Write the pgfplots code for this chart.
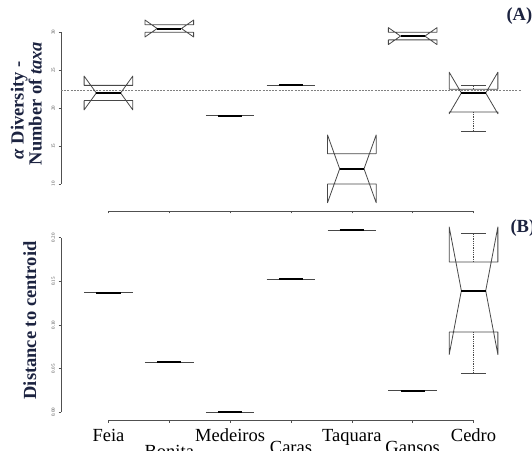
\documentclass[border=0pt]{standalone}
\usepackage{fontspec}
\setmainfont{Liberation Serif}
\usepackage{pgfplots}
\pgfplotsset{compat=1.18}
\definecolor{boxc}{HTML}{484848}
\definecolor{axc}{HTML}{505050}
\definecolor{navy}{HTML}{1C2340}
\tikzset{xl/.style={anchor=base, font=\fontsize{18.5}{22}\selectfont}}
\begin{document}
\begin{tikzpicture}
\pgfplotsset{
  rstyle/.style={
    scale only axis, width=460pt, clip=false,
    xmin=0.22, xmax=7.78,
    axis x line*=bottom, axis y line*=left,
    axis line style={draw=none},
    tick align=outside, major tick length=2.5pt,
    tick style={axc, line width=0.6pt},
    xtick={1,2,3,4,5,6,7}, xticklabels={},
    scaled y ticks=false,
    yticklabel style={rotate=90, anchor=south, font=\fontsize{5}{6}\selectfont, text=axc},
    /pgf/number format/assume math mode=true,
  },
  boxln/.style={boxc, line width=0.8pt, line join=round},
  med/.style={black, line width=2pt},
  whisk/.style={boxc, line width=0.7pt, dash pattern=on 1pt off 0.8pt},
  capl/.style={boxc, line width=0.8pt},
}
% ---------------- Panel A ----------------
\begin{axis}[rstyle, at={(61pt,239pt)}, anchor=south west, height=199.4pt,
  ymin=6.44, ymax=32.73, ytick={10,15,20,25,30}]
\draw[axc, line width=0.6pt] (axis cs:0.22,10) -- (axis cs:0.22,30);
\draw[axc, line width=0.6pt] (axis cs:1,6.44) -- (axis cs:7,6.44);
% reference line
\addplot[gray, line width=0.7pt, dash pattern=on 2pt off 1.2pt] coordinates {(0.22,22.3) (7.78,22.3)};
% Feia
\addplot[boxln] coordinates {(0.6,21)(1.4,21)(1.4,19.77)(1.2,22)(1.4,24.23)(1.4,23)(0.6,23)(0.6,24.23)(0.8,22)(0.6,19.77)(0.6,21)};
\addplot[med] coordinates {(0.8,22)(1.2,22)};
% Bonita
\addplot[boxln] coordinates {(1.6,30)(2.4,30)(2.4,29.38)(2.2,30.5)(2.4,31.62)(2.4,31)(1.6,31)(1.6,31.62)(1.8,30.5)(1.6,29.38)(1.6,30)};
\addplot[med] coordinates {(1.8,30.5)(2.2,30.5)};
% Medeiros
\addplot[boxln] coordinates {(2.6,19)(3.4,19)};
\addplot[med] coordinates {(2.8,19)(3.2,19)};
% Caras
\addplot[boxln] coordinates {(3.6,23)(4.4,23)};
\addplot[med] coordinates {(3.8,23)(4.2,23)};
% Taquara
\addplot[boxln] coordinates {(4.6,10)(5.4,10)(5.4,7.53)(5.2,12)(5.4,16.47)(5.4,14)(4.6,14)(4.6,16.47)(4.8,12)(4.6,7.53)(4.6,10)};
\addplot[med] coordinates {(4.8,12)(5.2,12)};
% Gansos
\addplot[boxln] coordinates {(5.6,29)(6.4,29)(6.4,28.38)(6.2,29.5)(6.4,30.62)(6.4,30)(5.6,30)(5.6,30.62)(5.8,29.5)(5.6,28.38)(5.6,29)};
\addplot[med] coordinates {(5.8,29.5)(6.2,29.5)};
% Cedro
\addplot[whisk] coordinates {(7,22.5)(7,23)};
\addplot[capl] coordinates {(6.8,23)(7.2,23)};
\addplot[whisk] coordinates {(7,19.5)(7,17)};
\addplot[capl] coordinates {(6.8,17)(7.2,17)};
\addplot[boxln] coordinates {(6.6,19.5)(7.4,19.5)(7.4,19.26)(7.2,22)(7.4,24.74)(7.4,22.5)(6.6,22.5)(6.6,24.74)(6.8,22)(6.6,19.26)(6.6,19.5)};
\addplot[med] coordinates {(6.8,22)(7.2,22)};
\end{axis}
% ---------------- Panel B ----------------
\begin{axis}[rstyle, at={(61pt,30pt)}, anchor=south west, height=200.5pt,
  ymin=-0.0088, ymax=0.2209, ytick={0,0.05,0.1,0.15,0.2},
  yticklabel style={/pgf/number format/.cd, fixed, fixed zerofill, precision=2}]
\draw[axc, line width=0.6pt] (axis cs:0.22,0) -- (axis cs:0.22,0.2);
\draw[axc, line width=0.6pt] (axis cs:1,-0.0088) -- (axis cs:7,-0.0088);
% single-value sites
\addplot[boxln] coordinates {(0.6,0.137)(1.4,0.137)};
\addplot[med] coordinates {(0.8,0.137)(1.2,0.137)};
\addplot[boxln] coordinates {(1.6,0.0573)(2.4,0.0573)};
\addplot[med] coordinates {(1.8,0.0573)(2.2,0.0573)};
\addplot[boxln] coordinates {(2.6,0)(3.4,0)};
\addplot[med] coordinates {(2.8,0)(3.2,0)};
\addplot[boxln] coordinates {(3.6,0.1527)(4.4,0.1527)};
\addplot[med] coordinates {(3.8,0.1527)(4.2,0.1527)};
\addplot[boxln] coordinates {(4.6,0.2088)(5.4,0.2088)};
\addplot[med] coordinates {(4.8,0.2088)(5.2,0.2088)};
\addplot[boxln] coordinates {(5.6,0.0248)(6.4,0.0248)};
\addplot[med] coordinates {(5.8,0.0248)(6.2,0.0248)};
% Cedro
\addplot[whisk] coordinates {(7,0.1722)(7,0.205)};
\addplot[capl] coordinates {(6.8,0.205)(7.2,0.205)};
\addplot[whisk] coordinates {(7,0.092)(7,0.0447)};
\addplot[capl] coordinates {(6.8,0.0447)(7.2,0.0447)};
\addplot[boxln] coordinates {(6.6,0.092)(7.4,0.092)(7.4,0.0662)(7.2,0.1393)(7.4,0.2124)(7.4,0.1722)(6.6,0.1722)(6.6,0.2124)(6.8,0.1393)(6.6,0.0662)(6.6,0.092)};
\addplot[med] coordinates {(6.8,0.1393)(7.2,0.1393)};
% category labels
\node[xl, yshift=-21pt] at (axis cs:1,-0.0088) {Feia};
\node[xl, yshift=-37pt] at (axis cs:2,-0.0088) {Bonita};
\node[xl, yshift=-21pt] at (axis cs:3,-0.0088) {Medeiros};
\node[xl, yshift=-33pt] at (axis cs:4,-0.0088) {Caras};
\node[xl, yshift=-21pt] at (axis cs:5,-0.0088) {Taquara};
\node[xl, yshift=-33pt] at (axis cs:6,-0.0088) {Gansos};
\node[xl, yshift=-21pt] at (axis cs:7,-0.0088) {Cedro};
\end{axis}
% axis titles and panel letters
\node[rotate=90, anchor=base, text=navy, font=\fontsize{18.5}{22}\selectfont\bfseries] at (23.5pt,339.5pt) {\textit{α} Diversity -};
\node[rotate=90, anchor=base, text=navy, font=\fontsize{18.5}{22}\selectfont\bfseries] at (41.5pt,346.5pt) {Number of \textit{taxa}};
\node[rotate=90, anchor=base, text=navy, font=\fontsize{18.5}{22}\selectfont\bfseries] at (36pt,129.5pt) {Distance to centroid};
\node[anchor=base west, text=navy, font=\fontsize{18.5}{22}\selectfont\bfseries] at (503pt,429pt) {(A)};
\node[anchor=base west, text=navy, font=\fontsize{18.5}{22}\selectfont\bfseries] at (507pt,217pt) {(B)};
\pgfresetboundingbox
\path (0,0) rectangle (532pt,450pt);
\end{tikzpicture}
\end{document}
